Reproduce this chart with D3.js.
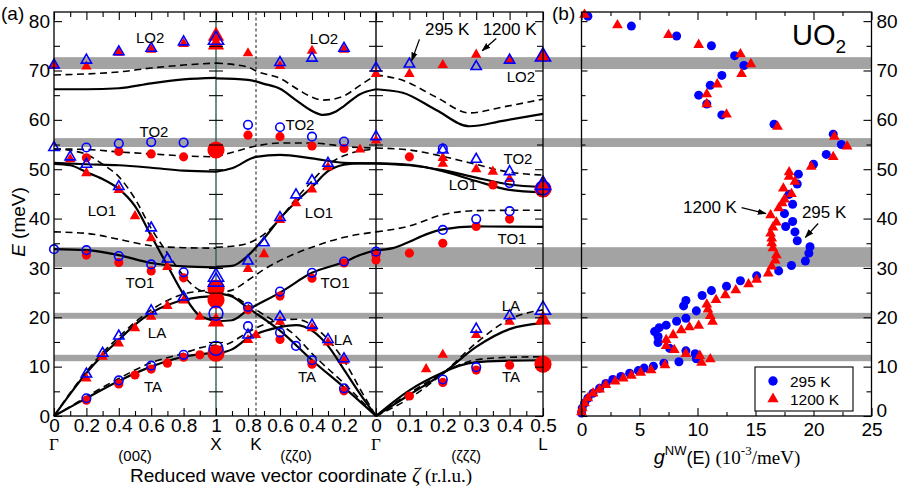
<!DOCTYPE html>
<html><head><meta charset="utf-8">
<script src="https://cdn.jsdelivr.net/npm/d3@7"></script>
<style>body{margin:0;background:#fff}svg{display:block}text{font-family:"Liberation Sans",Arial,Helvetica,sans-serif;fill:#000}</style>
</head><body><svg id="c" width="900" height="487"></svg>
<script>
// ---------------- DATA ----------------
// gray bands (meV)
const bands=[[70.3,72.7],[54.5,56.3],[30.2,34.2],[19.7,20.9],[11.1,12.4]];
// path coordinate ticks (q: Γ-X 0..1, X-Γ 1..2, Γ-L 2..2.5)
const xTickQ=[0,0.2,0.4,0.6,0.8,1,1.2,1.4,1.6,1.8,2,2.1,2.2,2.3,2.4,2.5];
const xTickLabels=["0","0.2","0.4","0.6","0.8","1","0.8","0.6","0.4","0.2","0","0.1","0.2","0.3","0.4","0.5"];
const xMinorQ=[0.1,0.3,0.5,0.7,0.9,1.1,1.3,1.5,1.7,1.9,2.05,2.15,2.25,2.35,2.45];
const symLabels=["Γ","X","K","Γ","L"];
const symQ=[0,1,1.25,2,2.5];
const dirLabels=["(00ζ)","(ζζ0)","(ζζζ)"];
const dirQ=[0.5,1.5,2.27];
const yTicksA=[0,10,20,30,40,50,60,70,80];
const gTicks=[0,5,10,15,20,25];

// calculated dispersion curves [ζ, E]
const gxSolid=[
 [[0,66.2],[0.2,66.2],[0.4,66.4],[0.6,67.4],[0.8,68.2],[1,68.5]],
 [[0,51.3],[0.2,51.0],[0.4,50.8],[0.6,50.3],[0.8,49.7],[1,49.5]],
 [[0,51.1],[0.1,50.8],[0.2,49.4],[0.3,48],[0.4,46],[0.5,42.5],[0.6,36.5],[0.7,30.5],[0.8,24.6],[0.9,20.3],[1,19.3]],
 [[0,33.8],[0.2,33.6],[0.4,32.6],[0.6,31],[0.8,30.3],[1,30.1]],
 [[0,0],[0.1,4.5],[0.2,8.7],[0.3,12.3],[0.4,15.4],[0.5,18.5],[0.6,20.9],[0.7,22.5],[0.8,23.5],[0.9,24.1],[1,24.3]],
 [[0,0],[0.1,1.8],[0.2,3.6],[0.4,7.1],[0.6,10],[0.8,12],[1,12.8]]
];
const gxDashed=[
 [[0,69.1],[0.2,69.3],[0.4,69.7],[0.6,70.5],[0.8,71.1],[1,71.5]],
 [[0,54.1],[0.2,54],[0.4,53.5],[0.6,53.1],[0.8,52.7],[1,52.5]],
 [[0,54.1],[0.1,53.8],[0.2,53],[0.3,51],[0.4,48.5],[0.5,44],[0.6,38],[0.7,33],[0.8,28.4],[0.9,25.5],[1,24.8]],
 [[0,37.3],[0.2,37],[0.4,35.8],[0.6,34.5],[0.8,34.1],[1,34]],
 [[0,0],[0.1,4.7],[0.2,9],[0.3,12.8],[0.4,16],[0.5,19],[0.6,21.5],[0.7,23.4],[0.8,24.7],[0.9,25.3],[1,25.5]],
 [[0,0],[0.1,1.9],[0.2,3.9],[0.4,7.6],[0.6,10.8],[0.8,12.7],[0.9,13.8],[1,14.4]]
];
const xgSolid=[
 [[1,68.4],[0.8,68.1],[0.7,67.3],[0.6,66.3],[0.5,64],[0.4,61.8],[0.33,61],[0.25,61.7],[0.2,62.8],[0.1,65.2],[0,66.2]],
 [[1,49.5],[0.9,50.2],[0.75,52.5],[0.6,52.9],[0.4,52.2],[0.2,51.3],[0,51.2]],
 [[1,30.2],[0.9,30.4],[0.8,32.5],[0.7,36],[0.6,40],[0.5,43.4],[0.4,46.4],[0.3,49.6],[0.2,50.9],[0.1,51.2],[0,51.2]],
 [[1,19.2],[0.9,19.4],[0.8,21.5],[0.6,25],[0.4,29],[0.2,31.2],[0.1,32.6],[0,33.6]],
 [[1,24.9],[0.9,24.2],[0.8,21.9],[0.6,17.3],[0.4,11.3],[0.2,5.8],[0,0]],
 [[1,12.6],[0.9,13.5],[0.8,15.8],[0.6,18],[0.5,18.4],[0.4,17.3],[0.3,14.2],[0.2,9.4],[0.1,4.5],[0,0]]
];
const xgDashed=[
 [[1,71.5],[0.8,70.7],[0.75,69.9],[0.6,68.4],[0.48,66],[0.4,64.6],[0.33,64],[0.21,64.7],[0.1,67],[0,69.1]],
 [[1,52.5],[0.89,53.5],[0.75,54.7],[0.6,55.3],[0.4,55.3],[0.16,54.5],[0,54.3]],
 [[1,34.2],[0.9,34.4],[0.8,35],[0.7,36.8],[0.6,40],[0.5,44],[0.4,47.6],[0.3,50.9],[0.16,53.2],[0,54.1]],
 [[1,25],[0.9,25.5],[0.8,27.5],[0.7,29.7],[0.58,31.8],[0.4,34.2],[0.2,36.2],[0,37.3]],
 [[1,25.1],[0.9,24.4],[0.8,22.5],[0.65,19.5],[0.53,17],[0.38,12],[0.19,6.3],[0,0]],
 [[1,13.8],[0.9,15],[0.8,17],[0.6,19.4],[0.5,19.6],[0.36,17.4],[0.19,10.7],[0.1,5.5],[0,0]]
];
const glSolid=[
 [[0,66.2],[0.08,65.5],[0.18,62],[0.28,58.7],[0.38,59.8],[0.5,61.2]],
 [[0,51.2],[0.1,50.8],[0.2,49.8],[0.3,48.3],[0.4,46.9],[0.5,46.4]],
 [[0,51.2],[0.1,50.9],[0.2,49.6],[0.3,47.6],[0.4,45.8],[0.5,45.3]],
 [[0,33.6],[0.05,34],[0.1,35.3],[0.15,36.8],[0.2,37.8],[0.3,38.4],[0.5,38.3]],
 [[0,0],[0.1,4.3],[0.2,8.6],[0.3,14],[0.4,17.6],[0.5,18.8]],
 [[0,0],[0.1,5.2],[0.2,8.8],[0.25,10.2],[0.3,10.9],[0.4,11.2],[0.5,11.3]]
];
const glDashed=[
 [[0,69.1],[0.08,68],[0.18,64.6],[0.28,61.4],[0.38,62.6],[0.5,64.2]],
 [[0,54.3],[0.1,53.9],[0.18,52.9],[0.28,51.3],[0.4,49.4],[0.5,48.8]],
 [[0,37.3],[0.1,38.5],[0.2,40.8],[0.3,41.6],[0.5,41.7]],
 [[0,0],[0.1,3.6],[0.2,8.6],[0.3,14.8],[0.4,19.6],[0.5,21.5]],
 [[0,0],[0.1,4.6],[0.2,8.7],[0.25,10.4],[0.3,11.4],[0.4,11.9],[0.5,12]]
];

// measured phonon energies [ζ, E]
const gx295Circ=[[0,33.8],[0.2,54.4],[0.4,55.2],[0.6,55.5],[0.8,55.4],[0.2,33.6],[0.4,32.4],[0.6,30.7],[0.8,29.1],[0.2,3.6],[0.4,7.2],[0.6,10.2],[0.8,12.4]];
const gx295Tri=[[0,71.1],[0.2,72.1],[0.4,73.8],[0.6,74.5],[0.8,75.8],[0,54.4],[0.1,52.5],[0.2,51],[0.4,46.5],[0.6,38.1],[0.7,31.8],[0.2,8.5],[0.3,12.7],[0.4,16.2],[0.6,21.3],[0.8,24.1]];
const gx1200Circ=[[0.2,52.3],[0.4,53.6],[0.6,53.1],[0.8,52.5],[0.2,32.6],[0.4,31.1],[0.6,29.4],[0.8,28],[0.2,3.2],[0.4,6.5],[0.5,8.3],[0.6,9.5],[0.7,10.7],[0.8,11.9],[0.9,12.4]];
const gx1200Tri=[[0,70.9],[0.2,70.8],[0.4,73.6],[0.6,74.2],[0.8,75.4],[0.1,52],[0.2,49.2],[0.4,45.8],[0.5,40.5],[0.6,36],[0.7,30.2],[0.9,20.1],[0.2,7.6],[0.3,12],[0.4,14.7],[0.5,17.8],[0.6,20.1],[0.7,22.3],[0.8,23.4]];
const xg295Circ=[[0.8,59],[0.6,58.5],[0.4,56.6],[0.2,55.6],[0.8,22.1],[0.6,25.2],[0.4,29],[0.2,31.3],[0.8,18.2],[0.6,16.9],[0.5,14.2],[0.4,11.3],[0.2,5.6]];
const xg295Tri=[[0.6,71.6],[0.4,72.5],[0.2,74.5],[0.8,31.4],[0.7,35.1],[0.6,40.2],[0.5,44.8],[0.4,47.7],[0.3,51.2],[0.8,16.4],[0.6,20.1],[0.4,18.4],[0.3,15.5],[0.2,11.6]];
const xg1200Circ=[[0.8,56.9],[0.6,56.6],[0.4,54.7],[0.2,54.2],[0.8,21.5],[0.6,24.3],[0.4,27.9],[0.2,31],[0.6,15.5],[0.4,10.5],[0.2,5.1]];
const xg1200Tri=[[0.8,73.5],[0.6,70.9],[0.4,74],[0.2,74.2],[0.1,54],[0.8,29.8],[0.7,32.8],[0.6,39.7],[0.5,43.1],[0.4,45.9],[0.3,50.4],[0.8,15.4],[0.75,16.4],[0.6,19.1],[0.4,17.8],[0.3,14.9],[0.2,11.2]];
const gl295Circ=[[0,33.3],[0.2,54.2],[0.4,47.2],[0.2,37.7],[0.3,39.9],[0.4,41.5],[0.2,7.4],[0.3,9.9]];
const gl295Tri=[[0,70.5],[0.1,71.3],[0.3,70.8],[0.4,72.1],[0,56.6],[0.2,53.9],[0.3,52],[0.4,49.5],[0.3,17.6],[0.4,20.3]];
const gl1200Circ=[[0,32.6],[0,31.6],[0.1,52.5],[0.35,46.8],[0.1,33],[0.2,35],[0.3,38.4],[0.4,39.9],[0.1,4.05],[0.2,6.8],[0.3,9.3],[0.4,10.3]];
const gl1200Tri=[[0,69.3],[0.1,69.3],[0.2,71.1],[0.3,73.2],[0.4,72],[0,55.8],[0.2,52.3],[0.2,51.1],[0.3,50],[0.35,49.5],[0.4,48],[0.15,9.5],[0.2,12.4],[0.3,16.4],[0.4,19.1]];
// zone-boundary points [q, E]
const zb295Circ=[[1,20.8],[1,13.7],[2.5,46.2]];
const zb295Tri=[[1,76.2],[1,28.2],[1,27.2],[2.5,72.8],[2.5,46.8],[2.5,21.5]];
const zb1200Circ=[[1,53.9],[1,25.9],[1,23.5],[1,12.7],[2.5,10.5],[2.5,46]];
const zb1200Tri=[[1,77],[1,75.2],[1,19.1],[2.5,72.8],[2.5,47],[2.5,19.5]];

// phonon DOS [g (1e-3/meV), E (meV)]
const dos295=[[0.55,81],[4.3,79],[8.2,77],[11.2,75],[13.2,73],[14,71],[12.1,69],[11.1,67],[10.1,65],[10.8,63.2],[12.1,61],[16.6,59.1],[21.7,57.1],[22.4,55],[21.1,53],[20,51],[18.7,49],[18.6,47],[17.9,44.9],[18.2,42.9],[17.5,41],[18.2,39.4],[17.6,38.4],[18.4,37.3],[18.6,35.5],[19.7,34.3],[19.6,33],[19.3,31.4],[18.1,30.5],[17,29.4],[15.1,28.4],[13.7,27.4],[12.5,26.3],[11.2,25.4],[10.4,24.4],[9,23.4],[8.8,22.3],[9.9,21.3],[9,19.8],[8.2,19.2],[7.3,18.4],[6.7,17.9],[6.3,17.1],[6.6,16.1],[6.6,14.9],[7.6,13.7],[9,13.2],[9.8,12.6],[9.9,11.6],[8.4,11],[7.1,10.7],[6.2,10.1],[5.4,9.7],[4.9,9.2],[4.15,8.65],[3.4,8],[2.7,7.4],[2.1,6.6],[1.56,5.6],[0.98,4.6],[0.55,3.6],[0.26,2.6],[0.06,1.6],[0,0.6]];
const dos1200=[[0.26,81.3],[3.1,79.2],[7.5,77.2],[10.1,75.2],[13.7,73.3],[14.6,71.3],[13.8,69.3],[11.7,67.2],[10.8,65.2],[10.8,63.2],[12.5,61.1],[16.9,58.6],[21.8,56.6],[22.9,54.6],[21.7,52.5],[19.8,50.5],[17.9,49.4],[17.9,48.5],[18.4,47.5],[17.4,46.1],[18.1,45],[17.5,43.9],[17.3,43.1],[17,42.1],[16.3,40.7],[16.8,39.2],[16.5,38.2],[16.3,37],[16.4,36],[16.4,35],[16.5,34],[16.8,32.6],[16.7,31.5],[16.4,30.3],[16.1,28.9],[15.1,27.6],[14.4,26.7],[13.3,25.5],[12.4,24.5],[11.6,23.5],[10.8,22.6],[10.9,21.6],[11.1,20.3],[11.3,19.1],[10.1,18.3],[9.3,18],[8.6,17.4],[7.9,16.4],[7.3,15.4],[7.3,14.2],[8,13.4],[9,12.6],[10.2,12.2],[11.1,11.5],[10.35,10.8],[7.2,10.3],[6,9.3],[5.1,8.8],[4.3,8.2],[3.6,7.6],[2.9,7],[2.1,6.3],[1.56,5.4],[1,4.6],[0.55,3.6],[0.26,2.6],[0.06,1.6],[0,0.8]];

// branch labels [text, q, E]
const branchLabels=[["LO2",0.593,76.6],["LO2",1.675,76.4],["LO2",2.434,68.7],["TO2",0.617,57.5],["TO2",1.525,59],["TO2",2.425,52.1],
 ["LO1",0.296,41.5],["LO1",1.644,41.1],["LO1",2.26,46.8],["TO1",0.531,26.9],["TO1",1.744,26.9],["TO1",2.407,35.9],
 ["LA",0.636,16.8],["LA",1.794,15.4],["LA",2.404,22.3],["TA",0.611,5.9],["TA",1.569,7.9],["TA",2.404,7.9]];

// ---------------- SCALES ----------------
const svg=d3.select("#c");
const yA=d3.scaleLinear().domain([0,81.85]).range([416,12]);
const xA=d3.scaleLinear().domain([0,1,2,2.5]).range([54,216,376,543]);
const xB=d3.scaleLinear().domain([0,25]).range([581.5,871.5]);
const qOf={gx:z=>z,xg:z=>2-z,gl:z=>2+z};
const BLUE="#0000ff",RED="#ff0000";

const defs=svg.append("defs");
defs.append("marker").attr("id","ah").attr("viewBox","0 0 10 10").attr("refX",9).attr("refY",5)
 .attr("markerWidth",9).attr("markerHeight",9).attr("orient","auto").attr("markerUnits","userSpaceOnUse")
 .append("path").attr("d","M0,1.5L10,5L0,8.5z").attr("fill","#000");

// bands
svg.append("g").selectAll("rect").data(bands).join("rect")
 .attr("x",xA(0)).attr("width",xB(25)-xA(0)).attr("y",d=>yA(d[1])).attr("height",d=>yA(d[0])-yA(d[1])).attr("fill","#a3a3a3");

// vertical lines
svg.append("line").attr("x1",xA(1)).attr("x2",xA(1)).attr("y1",yA.range()[1]).attr("y2",yA.range()[0]).attr("stroke","#2f5f52").attr("stroke-width",1.4);
svg.append("line").attr("x1",xA(2)).attr("x2",xA(2)).attr("y1",yA.range()[1]).attr("y2",yA.range()[0]).attr("stroke","#000").attr("stroke-width",1.4);
svg.append("line").attr("x1",xA(1.25)).attr("x2",xA(1.25)).attr("y1",yA.range()[1]).attr("y2",yA.range()[0]).attr("stroke","#000").attr("stroke-width",0.9).attr("stroke-dasharray","3,2.5");

// curves
const line=d3.line().x(d=>xA(d[0])).y(d=>yA(d[1])).curve(d3.curveMonotoneX);
function drawCurves(branches,seg,dashed){
 branches.forEach(b=>{
  const pts=b.map(([z,E])=>[qOf[seg](z),E]).sort((a,c)=>a[0]-c[0]);
  svg.append("path").attr("d",line(pts)).attr("fill","none").attr("stroke","#000")
   .attr("stroke-width",dashed?1.6:2.2).attr("stroke-dasharray",dashed?"7,4.5":null);
 });
}
drawCurves(gxSolid,"gx",false);drawCurves(gxDashed,"gx",true);
drawCurves(xgSolid,"xg",false);drawCurves(xgDashed,"xg",true);
drawCurves(glSolid,"gl",false);drawCurves(glDashed,"gl",true);

// markers
function mk(g,pts,toXY,type,size,color,open){
 g.selectAll(null).data(pts).join("path")
  .attr("transform",d=>{const p=toXY(d);return `translate(${p[0]},${p[1]})`;})
  .attr("d",d3.symbol().type(type).size(size))
  .attr("fill",open?"none":color).attr("stroke",open?color:"none").attr("stroke-width",open?1.6:0);
}
const gA=svg.append("g");
const segXY=seg=>d=>[xA(qOf[seg](d[0])),yA(d[1])];
const qXY=d=>[xA(d[0]),yA(d[1])];
const C=d3.symbolCircle,T=d3.symbolTriangle;
// red (1200 K) first
[["gx",gx1200Circ,gx1200Tri],["xg",xg1200Circ,xg1200Tri],["gl",gl1200Circ,gl1200Tri]].forEach(([s,c,t])=>{
 mk(gA,c,segXY(s),C,66,RED,false);mk(gA,t,segXY(s),T,48,RED,false);});
mk(gA,zb1200Circ,qXY,C,230,RED,false);mk(gA,zb1200Tri,qXY,T,115,RED,false);
[["gx",gx295Circ,gx295Tri],["xg",xg295Circ,xg295Tri],["gl",gl295Circ,gl295Tri]].forEach(([s,c,t])=>{
 mk(gA,c,segXY(s),C,58,BLUE,true);mk(gA,t,segXY(s),T,46,BLUE,true);});
mk(gA,zb295Circ,qXY,C,150,BLUE,true);mk(gA,zb295Tri,qXY,T,100,BLUE,true);

// panel b markers
const gB=svg.append("g");
const bXY=d=>[xB(d[0]),yA(d[1])];
mk(gB,dos295,bXY,C,64,BLUE,false);
mk(gB,dos1200,bXY,T,50,RED,false);

// ---------------- AXES ----------------
function styleAxis(g,fs){g.select(".domain").remove();g.selectAll("line").attr("stroke","#000").attr("stroke-width",1.1);
 g.selectAll("text").style("font-size",fs+"px").style("font-family",'"Liberation Sans",Arial,sans-serif');}
const FS=19;
// panel a y
svg.append("g").attr("transform",`translate(${xA(0)},0)`).call(d3.axisLeft(yA).tickValues(yTicksA).tickSize(-8).tickPadding(4)).call(g=>styleAxis(g,FS));
svg.append("g").attr("transform",`translate(${xA(0)},0)`).call(d3.axisLeft(yA).tickValues(d3.range(5,81,10)).tickSize(-6).tickFormat("")).call(g=>styleAxis(g,FS));
svg.append("g").attr("transform",`translate(${xA(2.5)},0)`).call(d3.axisRight(yA).tickValues(yTicksA).tickSize(-8).tickFormat("")).call(g=>styleAxis(g,FS));
svg.append("g").attr("transform",`translate(${xA(2.5)},0)`).call(d3.axisRight(yA).tickValues(d3.range(5,81,10)).tickSize(-6).tickFormat("")).call(g=>styleAxis(g,FS));
[1,2].forEach(q=>{
 svg.append("g").attr("transform",`translate(${xA(q)},0)`).call(d3.axisLeft(yA).tickValues(d3.range(5,81,5)).tickSize(7).tickFormat("")).call(g=>styleAxis(g,FS));
 svg.append("g").attr("transform",`translate(${xA(q)},0)`).call(d3.axisRight(yA).tickValues(d3.range(5,81,5)).tickSize(7).tickFormat("")).call(g=>styleAxis(g,FS));
});
// panel a x
svg.append("g").attr("transform",`translate(0,${yA(0)})`).call(d3.axisBottom(xA).tickValues(xTickQ).tickFormat((d,i)=>xTickLabels[i]).tickSize(-8).tickPadding(2)).call(g=>styleAxis(g,FS));
svg.append("g").attr("transform",`translate(0,${yA(0)})`).call(d3.axisBottom(xA).tickValues(xMinorQ).tickSize(-5).tickFormat("")).call(g=>styleAxis(g,FS));
svg.append("g").attr("transform",`translate(0,${yA.range()[1]})`).call(d3.axisTop(xA).tickValues(xTickQ).tickSize(-8).tickFormat("")).call(g=>styleAxis(g,FS));
svg.append("g").attr("transform",`translate(0,${yA.range()[1]})`).call(d3.axisTop(xA).tickValues(xMinorQ).tickSize(-5).tickFormat("")).call(g=>styleAxis(g,FS));
// panel b
svg.append("g").attr("transform",`translate(${xB(25)},0)`).call(d3.axisRight(yA).tickValues(yTicksA).tickSize(-8).tickPadding(5)).call(g=>styleAxis(g,FS))
 .call(g=>g.selectAll(".tick text").filter(d=>d===0).attr("dy","0.05em"));
svg.append("g").attr("transform",`translate(${xB(25)},0)`).call(d3.axisRight(yA).tickValues(d3.range(5,81,10)).tickSize(-5).tickFormat("")).call(g=>styleAxis(g,FS));
svg.append("g").attr("transform",`translate(${xB(0)},0)`).call(d3.axisLeft(yA).tickValues(yTicksA).tickSize(-6).tickFormat("")).call(g=>styleAxis(g,FS));
svg.append("g").attr("transform",`translate(${xB(0)},0)`).call(d3.axisLeft(yA).tickValues(d3.range(5,81,10)).tickSize(-4).tickFormat("")).call(g=>styleAxis(g,FS));
svg.append("g").attr("transform",`translate(0,${yA(0)})`).call(d3.axisBottom(xB).tickValues(gTicks).tickSize(-8).tickPadding(7)).call(g=>styleAxis(g,FS));
svg.append("g").attr("transform",`translate(0,${yA(0)})`).call(d3.axisBottom(xB).tickValues(d3.range(2.5,25,5)).tickSize(-4).tickFormat("")).call(g=>styleAxis(g,FS));
svg.append("g").attr("transform",`translate(0,${yA.range()[1]})`).call(d3.axisTop(xB).tickValues(gTicks).tickSize(-8).tickFormat("")).call(g=>styleAxis(g,FS));
svg.append("g").attr("transform",`translate(0,${yA.range()[1]})`).call(d3.axisTop(xB).tickValues(d3.range(2.5,25,5)).tickSize(-4).tickFormat("")).call(g=>styleAxis(g,FS));

// frames
svg.append("rect").attr("x",xA(0)).attr("y",yA.range()[1]).attr("width",xA(2.5)-xA(0)).attr("height",yA(0)-yA.range()[1]).attr("fill","none").attr("stroke","#000").attr("stroke-width",1.3);
svg.append("rect").attr("x",xB(0)).attr("y",yA.range()[1]).attr("width",xB(25)-xB(0)).attr("height",yA(0)-yA.range()[1]).attr("fill","none").attr("stroke","#000").attr("stroke-width",1.3);

// ---------------- TEXT ----------------
const sym=svg.append("g");
symLabels.forEach((s,i)=>{
 sym.append("text").attr("x",xA(symQ[i])).attr("y",450).attr("text-anchor","middle")
  .style("font-size","17px").style("font-family",s==="Γ"?'"Liberation Serif","Times New Roman",serif':null).text(s);
});
dirLabels.forEach((s,i)=>{
 svg.append("text").attr("x",xA(dirQ[i])).attr("y",460.5).attr("text-anchor","middle").style("font-size","15px").text(s);
});
const xt=svg.append("text").attr("x",301).attr("y",482).attr("text-anchor","middle").style("font-size","19px");
xt.append("tspan").text("Reduced wave vector coordinate ");
xt.append("tspan").style("font-family",'"Liberation Serif",serif').style("font-style","italic").style("font-size","20.5px").text("ζ");
xt.append("tspan").style("font-family",'"Liberation Serif",serif').text(" (r.l.u.)");

const yt=svg.append("text").attr("transform","translate(25,222) rotate(-90)").attr("text-anchor","middle").style("font-size","19px");
yt.append("tspan").style("font-style","italic").text("E");
yt.append("tspan").text(" (meV)");

svg.append("text").attr("x",1).attr("y",20).style("font-size","19px").text("(a)");
svg.append("text").attr("x",552).attr("y",20).style("font-size","19px").text("(b)");

branchLabels.forEach(([t,q,E])=>{
 svg.append("text").attr("x",xA(q)).attr("y",yA(E)).attr("dy","0.35em").attr("text-anchor","middle").style("font-size","15px").text(t);
});

// annotations panel a
svg.append("text").attr("x",xA(2.213)).attr("y",35).attr("text-anchor","middle").style("font-size","17px").text("295 K");
svg.append("text").attr("x",xA(2.4)).attr("y",35).attr("text-anchor","middle").style("font-size","17px").text("1200 K");
svg.append("line").attr("x1",xA(2.13)).attr("y1",yA(76.3)).attr("x2",xA(2.107)).attr("y2",yA(72.0)).attr("stroke","#000").attr("stroke-width",1.3).attr("marker-end","url(#ah)");
svg.append("line").attr("x1",xA(2.36)).attr("y1",yA(76.5)).attr("x2",xA(2.318)).attr("y2",yA(74.0)).attr("stroke","#000").attr("stroke-width",1.3).attr("marker-end","url(#ah)");

// annotations panel b
svg.append("text").attr("x",xB(13.4)).attr("y",yA(41.2)).attr("text-anchor","end").style("font-size","17px").text("1200 K");
svg.append("text").attr("x",xB(19.0)).attr("y",yA(40.1)).style("font-size","17px").text("295 K");
svg.append("line").attr("x1",xB(13.8)).attr("y1",yA(42.2)).attr("x2",xB(15.9)).attr("y2",yA(41.0)).attr("stroke","#000").attr("stroke-width",1.3).attr("marker-end","url(#ah)");
svg.append("line").attr("x1",xB(20.4)).attr("y1",yA(39.0)).attr("x2",xB(19.3)).attr("y2",yA(36.2)).attr("stroke","#000").attr("stroke-width",1.3).attr("marker-end","url(#ah)");

// UO2
const uo=svg.append("text").attr("x",792).attr("y",45).style("font-size","29px");
uo.append("tspan").text("UO");
uo.append("tspan").attr("dy",8).style("font-size","19px").text("2");

// x title panel b
const bt=svg.append("text").attr("x",727).attr("y",464).attr("text-anchor","middle").style("font-size","18px");
bt.append("tspan").style("font-style","italic").style("font-size","20px").text("g");
bt.append("tspan").attr("dy",-9).style("font-size","13px").text("NW");
bt.append("tspan").attr("dy",9).text("(E)  ");
bt.append("tspan").style("font-family",'"Liberation Serif",serif').style("font-size","19px").text("(10");
bt.append("tspan").attr("dy",-9).style("font-family",'"Liberation Serif",serif').style("font-size","13px").text("-3");
bt.append("tspan").attr("dy",9).style("font-family",'"Liberation Serif",serif').style("font-size","19px").text("/meV)");

// legend
const lg=svg.append("g");
lg.append("rect").attr("x",755).attr("y",367).attr("width",98).attr("height",44).attr("fill","#fff").attr("stroke","#000").attr("stroke-width",1.1);
lg.append("path").attr("transform","translate(773,381)").attr("d",d3.symbol().type(C).size(70)()).attr("fill",BLUE);
lg.append("path").attr("transform","translate(773,399)").attr("d",d3.symbol().type(T).size(55)()).attr("fill",RED);
lg.append("text").attr("x",790).attr("y",387).style("font-size","15.5px").text("295 K");
lg.append("text").attr("x",790).attr("y",405).style("font-size","15.5px").text("1200 K");
</script></body></html>
